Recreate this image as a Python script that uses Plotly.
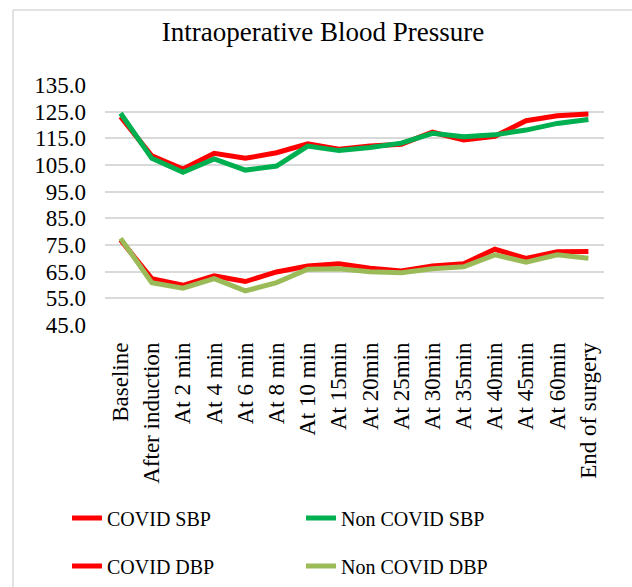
import plotly.graph_objects as go

categories = ["Baseline", "After induction", "At 2 min", "At 4 min", "At 6 min", "At 8 min",
              "At 10 min", "At 15min", "At 20min", "At 25min", "At 30min", "At 35min",
              "At 40min", "At 45min", "At 60min", "End of surgery"]

covid_sbp = [123.1, 108.4, 103.5, 109.4, 107.5, 109.6, 112.9, 110.9, 112.1, 112.8,
             117.3, 114.4, 115.8, 121.6, 123.5, 124.1]
non_covid_sbp = [124.4, 107.5, 102.3, 107.3, 103.1, 104.6, 112.1, 110.4, 111.6, 113.2,
                 116.9, 115.6, 116.3, 118.1, 120.6, 122.1]
covid_dbp = [76.9, 62.4, 59.9, 63.4, 61.3, 64.9, 67.1, 68.0, 66.3, 65.3,
             67.1, 68.0, 73.4, 70.0, 72.5, 72.6]
non_covid_dbp = [77.5, 60.9, 58.8, 62.4, 57.8, 60.9, 65.9, 66.1, 65.0, 64.6,
                 66.1, 66.8, 71.3, 68.6, 71.3, 70.0]

FONT = "Liberation Serif, Times New Roman, serif"

fig = go.Figure()
series = [
    ("COVID SBP", covid_sbp, "#FF0000", "legend"),
    ("Non COVID SBP", non_covid_sbp, "#00B050", "legend"),
    ("COVID DBP", covid_dbp, "#FF0000", "legend2"),
    ("Non COVID DBP", non_covid_dbp, "#9BBB59", "legend2"),
]
for name, vals, col, lg in series:
    fig.add_trace(go.Scatter(x=categories, y=vals, mode="lines", name=name,
                             line=dict(color=col, width=5), legend=lg))

L, R, T, B = 105, 28, 85, 262
W, H = 632, 587
pw, ph = W - L - R, H - T - B

def px2x(px):
    return (px - L) / pw

def py2y(py):
    return 1 - (py - T) / ph

legend_common = dict(orientation="h", xanchor="left", yanchor="middle",
                     entrywidth=189, entrywidthmode="pixels",
                     font=dict(family=FONT, size=20, color="black"),
                     bgcolor="rgba(0,0,0,0)", itemwidth=30)

border = dict(color="#d9d9d9", width=1.5)

fig.update_layout(
    width=W, height=H,
    margin=dict(l=L, r=R, t=T, b=B, autoexpand=False),
    paper_bgcolor="white", plot_bgcolor="white",
    title=dict(text="Intraoperative Blood Pressure", x=0.511, xanchor="center",
               y=1 - 32 / H, yanchor="middle",
               font=dict(family=FONT, size=27, color="black")),
    font=dict(family=FONT, size=23, color="black"),
    legend=dict(x=px2x(67), y=py2y(518), **legend_common),
    legend2=dict(x=px2x(67), y=py2y(566), **legend_common),
    xaxis=dict(tickangle=-90, showgrid=False, showline=False, ticks="",
               automargin=False,
               ticklabelstandoff=12, tickfont=dict(family=FONT, size=23, color="black"),
               range=[-0.5, len(categories) - 0.5]),
    yaxis=dict(range=[45, 135], tick0=45, dtick=10, tickformat=".1f",
               showgrid=True, gridcolor="#d9d9d9", gridwidth=1.5,
               zeroline=False, showline=False, ticks="", automargin=False,
               ticklabelstandoff=18,
               tickfont=dict(family=FONT, size=23, color="black")),
    shapes=[
        dict(type="line", xref="paper", yref="paper",
             x0=px2x(13), x1=px2x(W), y0=py2y(10), y1=py2y(10), line=border, layer="below"),
        dict(type="line", xref="paper", yref="paper",
             x0=px2x(13), x1=px2x(13), y0=py2y(10), y1=py2y(H), line=border, layer="below"),
    ],
)

fig.write_html("out.html", config={"displayModeBar": False},
               post_script="document.body.style.margin='0';document.body.style.overflow='hidden';")
